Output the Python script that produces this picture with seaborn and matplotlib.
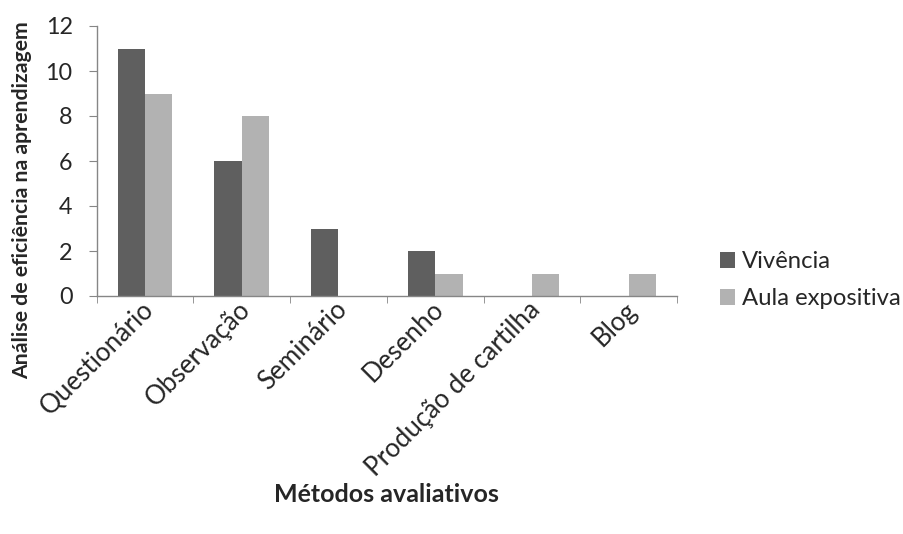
import matplotlib
matplotlib.use("Agg")
import matplotlib.pyplot as plt
import matplotlib.transforms as mtrans
import seaborn as sns
import pandas as pd
import numpy as np

categories = ["Questionário", "Observação", "Seminário", "Desenho", "Produção de cartilha", "Blog"]
vivencia = [11, 6, 3, 2, 0, 0]
aula_expositiva = [9, 8, 0, 1, 1, 1]
series_names = ["Vivência", "Aula expositiva"]
yticks = [0, 2, 4, 6, 8, 10, 12]
x_title = "Métodos avaliativos"
y_title = "Análise de eficiência na aprendizagem"

sns.set_style("white")
plt.rcParams['font.family'] = ['Lato', 'DejaVu Sans']

df = pd.DataFrame({
    "cat": categories * 2,
    "val": vivencia + aula_expositiva,
    "serie": [series_names[0]] * len(categories) + [series_names[1]] * len(categories),
})

W, H = 904, 534
PT = 0.72  # points per pixel at dpi 100
fig = plt.figure(figsize=(W / 100, H / 100), dpi=100)
L, R, T, B = 96.7, 677.0, 26.0, 296.0
ax = fig.add_axes([L / W, 1 - B / H, (R - L) / W, (B - T) / H])
sns.barplot(data=df, x="cat", y="val", hue="serie", palette=["#5f5f5f", "#b2b2b2"],
            width=0.565, gap=0, ax=ax, legend=True, saturation=1, linewidth=0)

renderer = fig.canvas.get_renderer()


def text_width(s, fs, weight="normal"):
    t = fig.text(0, 0, s, fontsize=fs, fontweight=weight)
    w = t.get_window_extent(renderer).width
    t.remove()
    return w


def fit_size(s, target_px, weight="normal", fs0=14.0):
    return fs0 * target_px / text_width(s, fs0, weight)


tick_fs = fit_size("Produção de cartilha", 236)
ytick_fs = fit_size("12", 27)
leg_fs = fit_size("Aula expositiva", 160)
xlab_fs = fit_size(x_title, 225, "bold")
ylab_fs = fit_size(y_title, 360, "bold")

spine_c = "#868686"
for s in ["top", "right"]:
    ax.spines[s].set_visible(False)
for s in ["left", "bottom"]:
    ax.spines[s].set_color(spine_c)
    ax.spines[s].set_linewidth(1.0)

ax.set_ylim(0, 12)
ax.set_xlim(-0.5, len(categories) - 0.5)
ax.set_yticks(yticks)
ax.set_yticklabels([str(v) for v in yticks], fontsize=ytick_fs)
ax.tick_params(axis="y", length=8 * PT, color=spine_c, direction="out", left=True, pad=16 * PT)

ax.set_xticks(np.arange(len(categories)))
ax.set_xticklabels(categories, rotation=45, ha="right", va="baseline",
                   rotation_mode="anchor", fontsize=tick_fs)
ax.tick_params(axis="x", which="major", length=0, pad=15 * PT)
shift = mtrans.ScaledTranslation(10 / 100, 0, fig.dpi_scale_trans)
for lab in ax.get_xticklabels():
    lab.set_transform(lab.get_transform() + shift)
ax.set_xticks(np.arange(-0.5, len(categories)), minor=True)
ax.tick_params(axis="x", which="minor", length=7 * PT, color=spine_c, direction="out", bottom=True)

ax.set_xlabel(x_title, fontsize=xlab_fs, fontweight="bold")
ax.xaxis.label.set_va("baseline")
ax.xaxis.set_label_coords(0.5, (B - 502) / (B - T))
ax.set_ylabel(y_title, fontsize=ylab_fs, fontweight="bold")
ax.yaxis.label.set_va("baseline")
ax.yaxis.set_label_coords((28 - L) / (R - L), (B - 200) / (B - T))

fs_px = leg_fs / PT


def make_legend(axx, axy, ls):
    return ax.legend(loc="upper left", bbox_to_anchor=(axx, axy), bbox_transform=fig.transFigure,
                     frameon=False, fontsize=leg_fs, handlelength=15 / fs_px, handleheight=15 / fs_px,
                     handletextpad=7 / fs_px, labelspacing=ls, borderpad=0, borderaxespad=0)


ax_x, ax_y, ls = 720 / W, 1 - 245 / H, 0.8
for _ in range(3):
    leg = make_legend(ax_x, ax_y, ls)
    fig.canvas.draw()
    e0 = leg.legend_handles[0].get_window_extent(renderer)
    e1 = leg.legend_handles[1].get_window_extent(renderer)
    sp = (e0.y0 + e0.y1) / 2 - (e1.y0 + e1.y1) / 2
    ls = ls + (37 - sp) / fs_px
    dx = 720 - e0.x0
    dy = (H - 260) - (e0.y0 + e0.y1) / 2
    ax_x += dx / W
    ax_y += dy / H
leg = make_legend(ax_x, ax_y, ls)

fig.savefig("out.png", dpi=100)
